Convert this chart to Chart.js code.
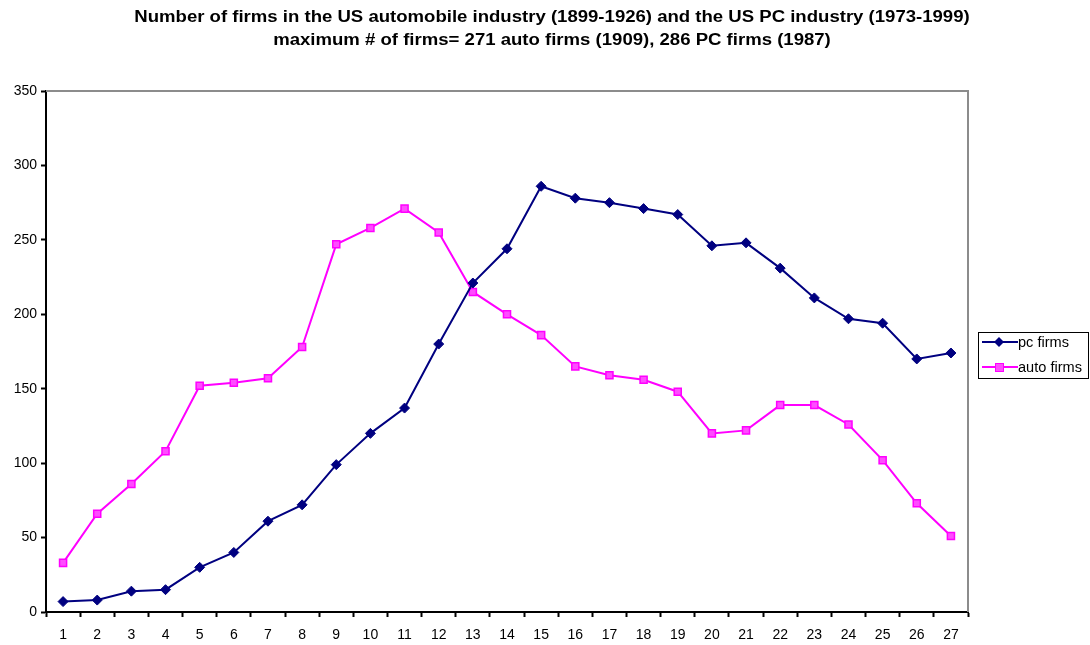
<!DOCTYPE html>
<html lang="en">
<head>
    <meta charset="UTF-8">
    <title>Number of firms: US auto vs US PC industry</title>
    <script src="https://cdn.jsdelivr.net/npm/chart.js"></script>
    <style>
        body {
            margin: 0;
            padding: 0;
            background: white;
        }
        .chart-box {
            width: 1090px;
            height: 645px;
        }
    </style>
</head>
<body>
<div class="chart-box">
    <canvas id="firmsChart" width="1090" height="645"></canvas>
</div>

<script>
    const years = ["1","2","3","4","5","6","7","8","9","10","11","12","13","14","15","16","17","18","19","20","21","22","23","24","25","26","27"];
    const pcFirms = [7, 8, 14, 15, 30, 40, 61, 72, 99, 120, 137, 180, 221, 244, 286, 278, 275, 271, 267, 246, 248, 231, 211, 197, 194, 170, 174];
    const autoFirms = [33, 66, 86, 108, 152, 154, 157, 178, 247, 258, 271, 255, 215, 200, 186, 165, 159, 156, 148, 120, 122, 139, 139, 126, 102, 73, 51];
    const yTicks = [0, 50, 100, 150, 200, 250, 300, 350];
    const titleLines = [
        "Number of firms in the US automobile industry (1899-1926) and the US PC industry (1973-1999)",
        "maximum # of firms= 271 auto firms (1909), 286 PC firms (1987)"
    ];

    const FONT = "Arial, 'Liberation Sans', sans-serif";

    // title over the whole page width, grey top/right frame, legend box on the right
    const framePlugin = {
        id: "frame",
        afterDraw(chart) {
            const ctx = chart.ctx;
            const a = chart.chartArea;
            ctx.save();

            // the original text looks slightly stretched sideways
            ctx.fillStyle = "#000";
            ctx.font = "bold 16px " + FONT;
            ctx.textAlign = "center";
            ctx.textBaseline = "middle";
            titleLines.forEach((t, i) => {
                ctx.save();
                ctx.translate(552, 18 + i * 23);
                ctx.scale(1.16, 1);
                ctx.fillText(t, 0, 0);
                ctx.restore();
            });
            ctx.textAlign = "left";

            ctx.strokeStyle = "#8c8c8c";
            ctx.lineWidth = 2;
            ctx.beginPath();
            ctx.moveTo(a.left, a.top);
            ctx.lineTo(a.right, a.top);
            ctx.lineTo(a.right, a.bottom);
            ctx.stroke();

            // legend
            const lx = 978, ly = 332, lw = 110, lh = 46;
            ctx.strokeStyle = "#000";
            ctx.lineWidth = 1;
            ctx.strokeRect(lx + 0.5, ly + 0.5, lw, lh);
            ctx.font = "14px " + FONT;
            chart.data.datasets.forEach((ds, i) => {
                const y = ly + 10 + i * 25;
                ctx.strokeStyle = ds.borderColor;
                ctx.lineWidth = 2;
                ctx.beginPath();
                ctx.moveTo(lx + 4, y);
                ctx.lineTo(lx + 40, y);
                ctx.stroke();
                ctx.fillStyle = ds.pointBackgroundColor;
                ctx.strokeStyle = ds.pointBorderColor;
                if (ds.pointStyle === "rectRot") {
                    ctx.beginPath();
                    ctx.moveTo(lx + 21, y - 5);
                    ctx.lineTo(lx + 26, y);
                    ctx.lineTo(lx + 21, y + 5);
                    ctx.lineTo(lx + 16, y);
                    ctx.closePath();
                    ctx.fill();
                } else {
                    ctx.fillRect(lx + 17, y - 4, 9, 9);
                    ctx.lineWidth = 1;
                    ctx.strokeRect(lx + 17.5, y - 3.5, 8, 8);
                }
                ctx.fillStyle = "#000";
                ctx.save();
                ctx.translate(lx + 40, y + 1);
                ctx.scale(1.04, 1);
                ctx.fillText(ds.label, 0, 0);
                ctx.restore();
            });
            ctx.restore();
        }
    };

    new Chart(document.getElementById("firmsChart").getContext("2d"), {
        type: "line",
        data: {
            labels: years,
            datasets: [{
                label: "pc firms",
                data: pcFirms,
                borderColor: "#000080",
                backgroundColor: "#000080",
                pointBackgroundColor: "#000080",
                pointBorderColor: "#000080",
                borderWidth: 2,
                pointStyle: "rectRot",
                pointRadius: 5,
                pointBorderWidth: 1,
                tension: 0
            }, {
                label: "auto firms",
                data: autoFirms,
                borderColor: "#ff00ff",
                backgroundColor: "#ff00ff",
                pointBackgroundColor: "#ff4dff",
                pointBorderColor: "#ff00ff",
                borderWidth: 2,
                pointStyle: "rect",
                pointRadius: 5,
                pointBorderWidth: 1.5,
                tension: 0
            }]
        },
        options: {
            responsive: false,
            animation: false,
            layout: {
                padding: { left: 0, right: 122, top: 91, bottom: 0 }
            },
            plugins: {
                legend: { display: false },
                tooltip: { enabled: false },
                title: { display: false }
            },
            scales: {
                x: {
                    offset: true,
                    grid: {
                        offset: true,
                        drawOnChartArea: false,
                        tickLength: 5,
                        tickColor: "#000",
                        tickWidth: 2
                    },
                    border: { color: "#000", width: 2 },
                    ticks: {
                        color: "#000",
                        font: { family: FONT, size: 14 },
                        padding: 10,
                        maxRotation: 0,
                        autoSkip: false
                    },
                    afterFit(scale) { scale.height = 33; }
                },
                y: {
                    min: 0,
                    max: 350,
                    afterBuildTicks(scale) {
                        scale.ticks = yTicks.map(v => ({ value: v }));
                    },
                    grid: {
                        drawOnChartArea: false,
                        tickLength: 5,
                        tickColor: "#000",
                        tickWidth: 2
                    },
                    border: { color: "#000", width: 2 },
                    ticks: {
                        color: "#000",
                        font: { family: FONT, size: 14 },
                        padding: 4
                    },
                    afterFit(scale) { scale.width = 46; }
                }
            }
        },
        plugins: [framePlugin]
    });
</script>
</body>
</html>
